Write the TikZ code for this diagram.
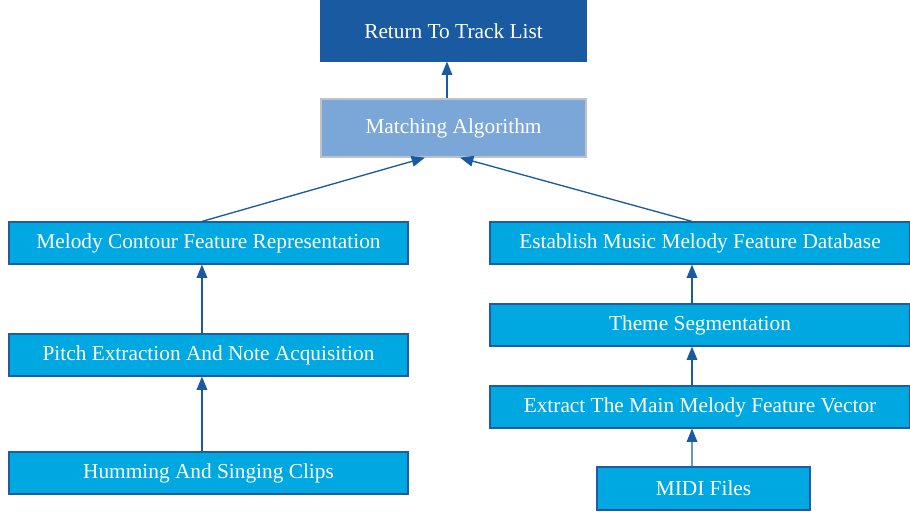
\documentclass[tikz,border=0pt]{standalone}
\usepackage{fontspec}
\setmainfont{Liberation Serif}
\usetikzlibrary{arrows.meta}
\definecolor{darkb}{HTML}{1A5AA0}
\definecolor{lightb}{HTML}{7BA6D8}
\definecolor{cyanb}{HTML}{00A8E1}
\definecolor{edgeb}{HTML}{1E5CA3}
\definecolor{grayb}{HTML}{BFC3C8}
\begin{document}
\begin{tikzpicture}[x=0.75pt,y=-0.75pt,
  box/.style={draw=edgeb,line width=0.9pt,fill=cyanb,text=white,inner sep=0pt,
    font=\fontsize{16}{18}\selectfont,minimum height=31.5pt},
  conn/.style={draw=darkb,line width=1pt,-{Triangle[length=10pt,width=8pt]}}]
\useasboundingbox (0,0) rectangle (910,511);
\node[box,draw=darkb,fill=darkb,minimum width=198.75pt,minimum height=45pt] (ret) at (453.5,31) {Return To Track List};
\node[box,draw=grayb,fill=lightb,minimum width=198.75pt,minimum height=43.5pt] (match) at (453.5,128) {Matching Algorithm};
\node[box,minimum width=299.25pt] (mel) at (208.5,243) {Melody Contour Feature Representation};
\node[box,minimum width=299.25pt] (pitch) at (208.5,355) {Pitch Extraction And Note Acquisition};
\node[box,minimum width=299.25pt] (hum) at (208.5,473) {Humming And Singing Clips};
\node[box,minimum width=315pt] (est) at (700,243) {Establish Music Melody Feature Database};
\node[box,minimum width=315pt] (theme) at (700,325) {Theme Segmentation};
\node[box,minimum width=315pt] (extr) at (700,407) {Extract The Main Melody Feature Vector};
\node[box,minimum width=159.75pt,minimum height=32.25pt] (midi) at (703.5,488.5) {MIDI Files};
\draw[conn] ([xshift=-4.9pt]match.north) -- ([xshift=-4.9pt]ret.south);
\draw[conn] ([xshift=-4.9pt]mel.north) -- ([xshift=-21.4pt]match.south);
\draw[conn] ([xshift=-6pt]est.north) -- ([xshift=4.9pt]match.south);
\draw[conn] ([xshift=-4.9pt]pitch.north) -- ([xshift=-4.9pt]mel.south);
\draw[conn] ([xshift=-4.9pt]hum.north) -- ([xshift=-4.9pt]pitch.south);
\draw[conn] ([xshift=-6pt]theme.north) -- ([xshift=-6pt]est.south);
\draw[conn] ([xshift=-6pt]extr.north) -- ([xshift=-6pt]theme.south);
\draw[conn] ([xshift=-8.6pt]midi.north) -- ([xshift=-6pt]extr.south);
\end{tikzpicture}
\end{document}
